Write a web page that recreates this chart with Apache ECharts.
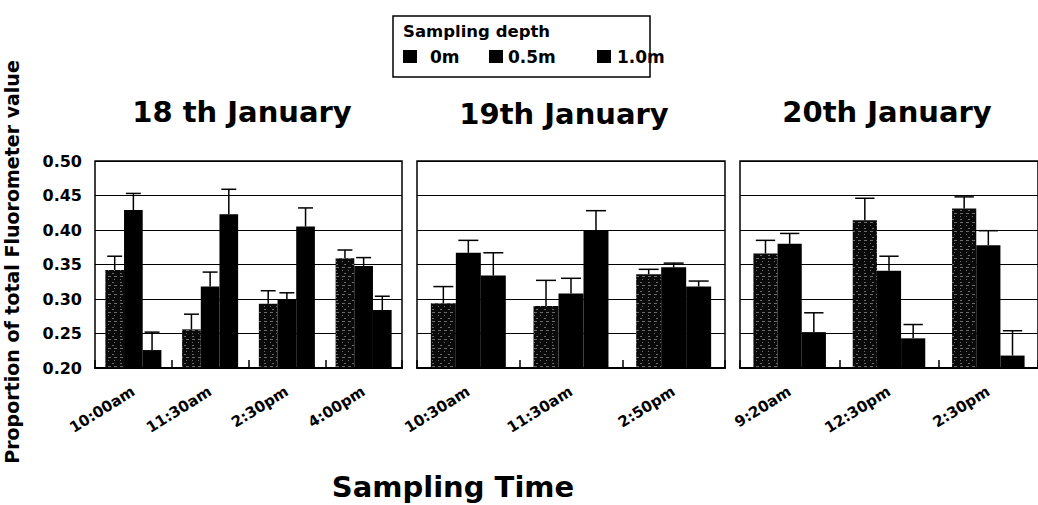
<!DOCTYPE html>
<html>
<head>
<meta charset="utf-8">
<script src="https://cdn.jsdelivr.net/npm/echarts@6/dist/echarts.min.js"></script>
<style>
  html, body { margin: 0; padding: 0; background: #fff; }
  #chart { width: 1038px; height: 505px; }
</style>
</head>
<body>
<div id="chart"></div>
<script>
// Sampling times for each day
const day18Times = ['10:00am', '11:30am', '2:30pm', '4:00pm'];
const day19Times = ['10:30am', '11:30am', '2:50pm'];
const day20Times = ['9:20am', '12:30pm', '2:30pm'];
const depths = ['0m', '0.5m', '1.0m'];
const dayTitles = ['18 th January', '19th January', '20th January'];
const yTicks = [0.20, 0.25, 0.30, 0.35, 0.40, 0.45, 0.50];

// Mean proportion of total fluorometer value, per depth
const day18_0m  = [0.342, 0.256, 0.293, 0.359];
const day18_05m = [0.429, 0.318, 0.300, 0.348];
const day18_10m = [0.226, 0.423, 0.405, 0.284];
const day19_0m  = [0.294, 0.290, 0.336];
const day19_05m = [0.367, 0.308, 0.346];
const day19_10m = [0.334, 0.399, 0.318];
const day20_0m  = [0.366, 0.414, 0.431];
const day20_05m = [0.380, 0.341, 0.378];
const day20_10m = [0.252, 0.243, 0.218];

// Upper error (standard error) per depth
const day18_err0m  = [0.020, 0.022, 0.019, 0.012];
const day18_err05m = [0.024, 0.021, 0.009, 0.012];
const day18_err10m = [0.026, 0.036, 0.027, 0.020];
const day19_err0m  = [0.024, 0.037, 0.007];
const day19_err05m = [0.018, 0.022, 0.006];
const day19_err10m = [0.033, 0.029, 0.008];
const day20_err0m  = [0.019, 0.032, 0.017];
const day20_err05m = [0.015, 0.021, 0.021];
const day20_err10m = [0.028, 0.020, 0.036];

const days = [
  { times: day18Times, means: [day18_0m, day18_05m, day18_10m], errs: [day18_err0m, day18_err05m, day18_err10m] },
  { times: day19Times, means: [day19_0m, day19_05m, day19_10m], errs: [day19_err0m, day19_err05m, day19_err10m] },
  { times: day20Times, means: [day20_0m, day20_05m, day20_10m], errs: [day20_err0m, day20_err05m, day20_err10m] }
];

const FONT = 'DejaVu Sans';
const CAT_GAP = 0.27;
const panels = [
  { left: 95,  width: 307, titleX: 242, titleY: 112 },
  { left: 417, width: 308, titleX: 564, titleY: 114 },
  { left: 740, width: 308, titleX: 887, titleY: 112 }
];
const gridTop = 161, gridHeight = 207;

// Speckled fill for the surface samples
const speckle = {
  symbol: 'rect',
  symbolSize: 1,
  dashArrayX: [[3, 3], [1, 5], [2, 6]],
  dashArrayY: [1, 2],
  color: 'rgba(255,255,255,0.4)',
  rotation: 0
};

function renderErrorBar(params, api) {
  const cat = api.value(0);
  const k = api.value(1);
  const mean = api.value(2);
  const err = api.value(3);
  const band = api.size([1, 0])[0];
  const barW = band * (1 - CAT_GAP) / 3;
  const base = api.coord([cat, mean]);
  const x = base[0] + (k - 1) * barW;
  const yTop = api.coord([cat, mean + err])[1];
  const half = barW * 0.4;
  const st = { stroke: '#000', lineWidth: 1.5 };
  return {
    type: 'group',
    children: [
      { type: 'line', shape: { x1: x, y1: base[1], x2: x, y2: yTop }, style: st },
      { type: 'line', shape: { x1: x - half, y1: yTop, x2: x + half, y2: yTop }, style: st }
    ]
  };
}

const grid = [], xAxis = [], yAxis = [], series = [];
days.forEach((d, g) => {
  const p = panels[g];
  grid.push({
    left: p.left, top: gridTop, width: p.width, height: gridHeight,
    show: true, borderColor: '#000', borderWidth: 1.5, backgroundColor: 'transparent'
  });
  xAxis.push({
    type: 'category', gridIndex: g, data: d.times,
    axisLine: { lineStyle: { color: '#000', width: 2 } },
    axisTick: { show: true, inside: true, length: 8, lineStyle: { color: '#000', width: 1.5 } },
    axisLabel: { interval: 0, rotate: 32, margin: 22, color: '#000', fontFamily: FONT, fontWeight: 'bold', fontSize: 15 }
  });
  yAxis.push({
    type: 'value', gridIndex: g, min: yTicks[0], max: yTicks[yTicks.length - 1], interval: 0.05,
    axisLine: { show: false },
    axisTick: { show: false },
    splitLine: { show: true, lineStyle: { color: '#000', width: 1 } },
    axisLabel: {
      show: g === 0, margin: 13, color: '#000', fontFamily: FONT, fontWeight: 'bold', fontSize: 16,
      formatter: v => v.toFixed(2)
    }
  });
  depths.forEach((name, k) => {
    series.push({
      type: 'bar', name: name, xAxisIndex: g, yAxisIndex: g,
      data: d.means[k],
      barGap: '0%', barCategoryGap: (CAT_GAP * 100) + '%',
      itemStyle: k === 0 ? { color: '#0a0a0a', decal: speckle } : { color: '#000' },
      emphasis: { disabled: true }
    });
  });
  const errData = [];
  d.times.forEach((t, i) => {
    depths.forEach((name, k) => errData.push([i, k, d.means[k][i], d.errs[k][i]]));
  });
  series.push({
    type: 'custom', xAxisIndex: g, yAxisIndex: g, data: errData,
    encode: { x: 0, y: 2 }, renderItem: renderErrorBar, z: 3, silent: true
  });
});

const legendStyle = { color: '#000', decal: 'none' };
const legendLefts = [403, 489, 597];
const legendPads = [8, 0, 1];
const legend = depths.map((name, k) => ({
  data: [{ name: name, itemStyle: legendStyle }],
  left: legendLefts[k], top: 48, padding: 0,
  icon: 'rect', itemWidth: 14, itemHeight: 13,
  textStyle: { color: '#000', fontFamily: FONT, fontWeight: 'bold', fontSize: 17, padding: [0, 0, 0, legendPads[k]] },
  selectedMode: false
}));

const graphic = [
  { type: 'rect', shape: { x: 393, y: 16, width: 257, height: 61 }, style: { fill: 'none', stroke: '#000', lineWidth: 1.5 } },
  { type: 'text', x: 403, y: 31, style: { text: 'Sampling depth', fill: '#000', font: 'bold 16.5px "DejaVu Sans"', textVerticalAlign: 'middle' } },
  { type: 'text', x: 12, y: 262, rotation: Math.PI / 2,
    style: { text: 'Proportion of total Fluorometer value', fill: '#000', font: 'bold 19px "DejaVu Sans"', textAlign: 'center', textVerticalAlign: 'middle' } },
  { type: 'text', x: 453, y: 487,
    style: { text: 'Sampling Time', fill: '#000', font: 'bold 29px "DejaVu Sans"', textAlign: 'center', textVerticalAlign: 'middle' } }
];
dayTitles.forEach((t, g) => {
  graphic.push({ type: 'text', x: panels[g].titleX, y: panels[g].titleY,
    style: { text: t, fill: '#000', font: 'bold 29px "DejaVu Sans"', textAlign: 'center', textVerticalAlign: 'middle' } });
});

const chart = echarts.init(document.getElementById('chart'), null, { renderer: 'svg' });
chart.setOption({
  animation: false,
  backgroundColor: '#fff',
  textStyle: { fontFamily: FONT },
  legend: legend,
  grid: grid,
  xAxis: xAxis,
  yAxis: yAxis,
  series: series,
  graphic: graphic
});
</script>
</body>
</html>
